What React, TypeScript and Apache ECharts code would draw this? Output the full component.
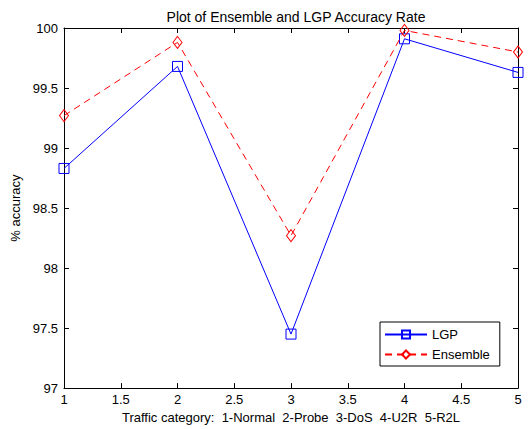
import React, { useEffect, useRef } from "react";
import * as echarts from "echarts";

const categories = [1, 2, 3, 4, 5];
const lgpValues = [98.83, 99.68, 97.45, 99.91, 99.63];
const ensembleValues = [99.27, 99.88, 98.27, 99.98, 99.8];
const titleText = "Plot of Ensemble and LGP Accuracy Rate";
const xName = "Traffic category:  1-Normal  2-Probe  3-DoS  4-U2R  5-R2L";
const yName = "% accuracy";

const FONT = "Liberation Sans, Arial, Helvetica, sans-serif";

export default function App() {
  const ref = useRef<HTMLDivElement>(null);
  useEffect(() => {
    if (!ref.current) return;
    const chart = echarts.init(ref.current, null, { renderer: "svg" });
    const axisLine = { show: true, lineStyle: { color: "#000", width: 1 } };
    const tick = { show: true, inside: true, length: 5, lineStyle: { color: "#000" } };
    chart.setOption({
      animation: false,
      backgroundColor: "#fff",
      textStyle: { fontFamily: FONT },
      title: {
        text: titleText,
        left: 291,
        textAlign: "center",
        top: 5,
        textStyle: { fontSize: 14, fontWeight: "normal", color: "#000", fontFamily: FONT },
      },
      grid: { left: 64, right: 10, top: 28, bottom: 39, containLabel: false },
      legend: {
        orient: "vertical",
        left: 380,
        top: 322,
        padding: [6, 10, 5, 4],
        itemWidth: 42,
        itemHeight: 10,
        itemGap: 7,
        borderColor: "#000",
        borderWidth: 1,
        backgroundColor: "#fff",
        textStyle: { fontSize: 13, color: "#000", fontFamily: FONT },
        data: ["LGP", "Ensemble"],
      },
      xAxis: [
        {
          type: "value",
          min: 1,
          max: 5,
          interval: 0.5,
          axisLine,
          axisTick: tick,
          splitLine: { show: false },
          axisLabel: { color: "#000", fontSize: 13, margin: 5, fontFamily: FONT },
          name: xName,
          nameLocation: "middle",
          nameGap: 22,
          nameTextStyle: { color: "#000", fontSize: 13, fontFamily: FONT },
        },
        {
          type: "value",
          position: "top",
          min: 1,
          max: 5,
          interval: 0.5,
          axisLine,
          axisTick: tick,
          splitLine: { show: false },
          axisLabel: { show: false },
        },
      ],
      yAxis: [
        {
          type: "value",
          min: 97,
          max: 100,
          interval: 0.5,
          axisLine,
          axisTick: tick,
          splitLine: { show: false },
          axisLabel: { color: "#000", fontSize: 13, margin: 6, fontFamily: FONT },
          name: yName,
          nameLocation: "middle",
          nameGap: 40,
          nameTextStyle: { color: "#000", fontSize: 13, fontFamily: FONT },
        },
        {
          type: "value",
          position: "right",
          min: 97,
          max: 100,
          interval: 0.5,
          axisLine,
          axisTick: tick,
          splitLine: { show: false },
          axisLabel: { show: false },
        },
      ],
      series: [
        {
          name: "LGP",
          type: "line",
          data: categories.map((c, i) => [c, lgpValues[i]]),
          color: "#0000ff",
          symbol: "rect",
          symbolSize: 10,
          showAllSymbol: true,
          lineStyle: { color: "#0000ff", width: 1 },
          itemStyle: { color: "rgba(255,255,255,0)", borderColor: "#0000ff", borderWidth: 1 },
          z: 3,
        },
        {
          name: "Ensemble",
          type: "line",
          data: categories.map((c, i) => [c, ensembleValues[i]]),
          color: "#ff0000",
          symbol: "diamond",
          symbolSize: [9, 12],
          showAllSymbol: true,
          lineStyle: { color: "#ff0000", width: 1, type: [7, 5] },
          itemStyle: { color: "rgba(255,255,255,0)", borderColor: "#ff0000", borderWidth: 1 },
          z: 4,
        },
      ],
    });
    return () => chart.dispose();
  }, []);
  return (
    <div
      ref={ref}
      style={{ position: "absolute", left: 0, top: 0, width: 528, height: 429 }}
    />
  );
}
